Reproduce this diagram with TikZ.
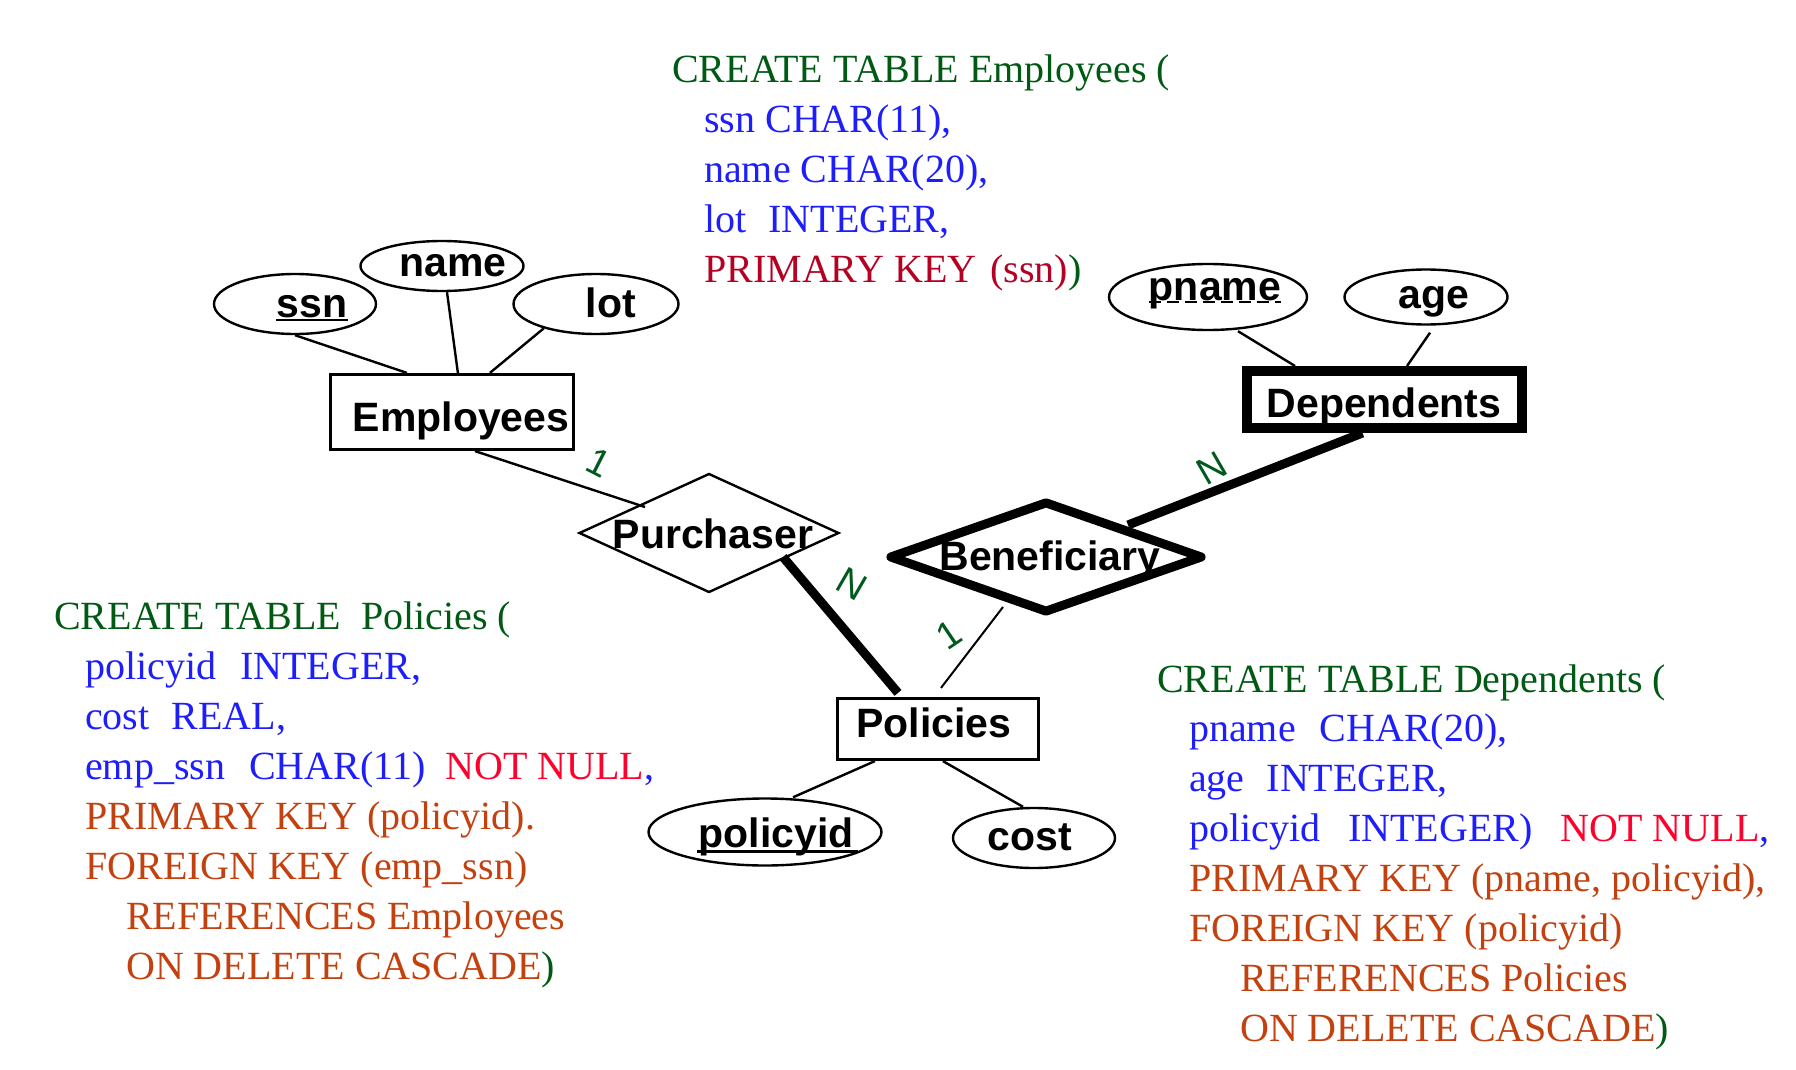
\documentclass[tikz,border=0pt]{standalone}
\usepackage{fontspec}
\setmainfont{Liberation Serif}
\newfontfamily\ersf{Liberation Sans}
\usetikzlibrary{shapes.geometric,calc}
\definecolor{sqlgreen}{RGB}{0,90,20}
\definecolor{sqlblue}{RGB}{30,30,250}
\definecolor{sqldred}{RGB}{180,0,35}
\definecolor{sqlred}{RGB}{255,0,45}
\definecolor{sqlbrown}{RGB}{195,65,15}
\definecolor{lblgreen}{RGB}{0,90,30}
\newcommand\gr[1]{\textcolor{sqlgreen}{#1}}
\newcommand\bl[1]{\textcolor{sqlblue}{#1}}
\newcommand\dr[1]{\textcolor{sqldred}{#1}}
\newcommand\rd[1]{\textcolor{sqlred}{#1}}
\newcommand\br[1]{\textcolor{sqlbrown}{#1}}
\begin{document}
\begin{tikzpicture}[x=1pt,y=-1pt,
  attr/.style={draw, ellipse, line width=2.4pt, inner sep=0pt},
  ent/.style={draw, rectangle, line width=3.2pt, inner sep=0pt},
  rel/.style={draw, diamond, line width=2.4pt, inner sep=0pt},
  ertext/.style={font=\ersf\bfseries\fontsize{41}{41}\selectfont, inner sep=0pt, anchor=base},
  card/.style={font=\ersf\fontsize{38}{38}\selectfont, text=lblgreen, inner sep=0pt},
  conn/.style={line width=2.4pt},
  thickconn/.style={line width=9pt},
  sql/.style={font=\fontsize{40}{50}\selectfont, inner sep=0pt, anchor=base west},
]
\useasboundingbox (0,0) rectangle (1796,1070);

% entities
\node[ent, minimum width=243pt, minimum height=75pt] (emp) at (452,412) {};
\node[ent, minimum width=201pt, minimum height=61pt] (pol) at (938,729) {};
\node[draw, rectangle, line width=10pt, inner sep=0pt, minimum width=275pt, minimum height=57pt] (dep) at (1384.5,399.5) {};

% relationships
\node[rel, minimum width=260pt, minimum height=119pt] (pur) at (709,533) {};
\node[draw, diamond, line width=9pt, line join=round, inner sep=0pt, minimum width=314pt, minimum height=112pt] (ben) at (1046,557) {};

% attributes
\node[attr, minimum width=162pt, minimum height=60pt] (ssn) at (295,304) {};
\node[attr, minimum width=163pt, minimum height=50pt] (name) at (442,266) {};
\node[attr, minimum width=165pt, minimum height=60pt] (lot) at (596,304) {};
\node[attr, minimum width=198pt, minimum height=66pt] (pname) at (1208,297) {};
\node[attr, minimum width=163pt, minimum height=55pt] (age) at (1426,297) {};
\node[attr, minimum width=233pt, minimum height=67pt] (policyid) at (765,832) {};
\node[attr, minimum width=162pt, minimum height=60pt] (cost) at (1034,838) {};

% texts
\node[ertext] (ssnT) at (312,317) {ssn};
\node[ertext] (nameT) at (453,276) {name};
\node[ertext] (lotT) at (611,317) {lot};
\node[ertext] (empT) at (461,431) {Employees};
\node[ertext] (pnameT) at (1215,300) {pname};
\node[ertext] (ageT) at (1434,308) {age};
\node[ertext] (depT) at (1384,417) {Dependents};
\node[ertext] (polT) at (934,737) {Policies};
\node[ertext] (policyidT) at (776,847) {policyid};
\node[ertext] (costT) at (1030,850) {cost};
\node[ertext] (purT) at (713,548) {Purchaser};
\node[ertext] (benT) at (1050,570) {Beneficiary};

% key underlines
\draw[line width=2pt] ([yshift=-2.5pt]ssnT.base west) -- ([yshift=-2.5pt]ssnT.base east);
\draw[line width=2.6pt] ([yshift=-4.7pt,xshift=-1pt]policyidT.base west) -- ([yshift=-4.7pt,xshift=4pt]policyidT.base east);
\draw[line width=2pt, dash pattern=on 12pt off 6pt] ([yshift=-1.5pt]pnameT.base west) -- ([yshift=-1.5pt]pnameT.base east);

% connectors
\draw[conn] (ssn.south) -- ($(emp.north west)+(78,0)$);
\draw[conn] ($(name.south)+(5,0)$) -- ($(emp.north west)+(129,0)$);
\draw[conn] (lot.205) -- ($(emp.north west)+(161,0)$);
\draw[conn] ($(pname.south)+(30,0)$) -- ($(dep.north west)+(53,0)$);
\draw[conn] ($(age.south)+(4,7)$) -- ($(dep.north west)+(165,0)$);
\draw[conn] ($(policyid.north)+(28,0)$) -- ($(pol.south west)+(39,0)$);
\draw[conn] ($(pol.south west)+(107,0)$) -- ($(cost.north)+(-11,0)$);
\draw[conn] ($(emp.south)+(23,0)$) -- ($(pur.center)+(-64,-26)$);
\draw[thickconn] ($(pur.center)+(74,24)$) -- ($(pol.north)+(-40,-4)$);
\draw[line width=2pt] ($(ben.center)+(-43,50)$) -- ($(pol.north)+(3,-9)$);
\draw[thickconn] ($(ben.center)+(82,-32)$) -- ($(dep.south)+(-22,0)$);

% cardinalities
\node[card, rotate=-27] (c1) at (599,463) {1};
\node[card, rotate=-30] (c2) at (852,584) {N};
\node[card, rotate=34] (c3) at (949,635) {1};
\node[card, rotate=30] (c4) at (1212,468) {N};

% SQL
\node[sql] (empsql) at (672,82.5) {\vtop{\baselineskip=49.9pt
\hbox{\gr{CREATE TABLE Employees (}}
\hbox{\hskip32pt\bl{ssn CHAR(11),}}
\hbox{\hskip32pt\bl{name CHAR(20),}}
\hbox{\hskip32pt\bl{lot\hskip22pt INTEGER,}}
\hbox{\hskip32pt\dr{PRIMARY KEY\hskip14pt (ssn)}\gr{)}}}};

\node[sql] (polsql) at (54,629) {\vtop{\baselineskip=50pt
\hbox{\gr{CREATE TABLE\hskip20pt Policies (}}
\hbox{\hskip31pt\bl{policyid\hskip24pt INTEGER,}}
\hbox{\hskip31pt\bl{cost\hskip22pt REAL,}}
\hbox{\hskip31pt\bl{emp\_ssn\hskip24pt CHAR(11)}\hskip20pt\rd{NOT NULL}\bl{,}}
\hbox{\hskip31pt\br{PRIMARY KEY (policyid).}}
\hbox{\hskip31pt\br{FOREIGN KEY (emp\_ssn)}}
\hbox{\hskip72pt\br{REFERENCES Employees}}
\hbox{\hskip72pt\br{ON DELETE CASCADE}\gr{)}}}};

\node[sql] (depsql) at (1157,692) {\vtop{\baselineskip=49.9pt
\hbox{\gr{CREATE TABLE Dependents (}}
\hbox{\hskip32pt\bl{pname\hskip24pt CHAR(20),}}
\hbox{\hskip32pt\bl{age\hskip22pt INTEGER,}}
\hbox{\hskip32pt\bl{policyid\hskip28pt INTEGER)}\hskip28pt\rd{NOT NULL}\bl{,}}
\hbox{\hskip32pt\br{PRIMARY KEY (pname, policyid),}}
\hbox{\hskip32pt\br{FOREIGN KEY (policyid)}}
\hbox{\hskip83pt\br{REFERENCES Policies}}
\hbox{\hskip83pt\br{ON DELETE CASCADE}\gr{)}}}};
\end{tikzpicture}
\end{document}
